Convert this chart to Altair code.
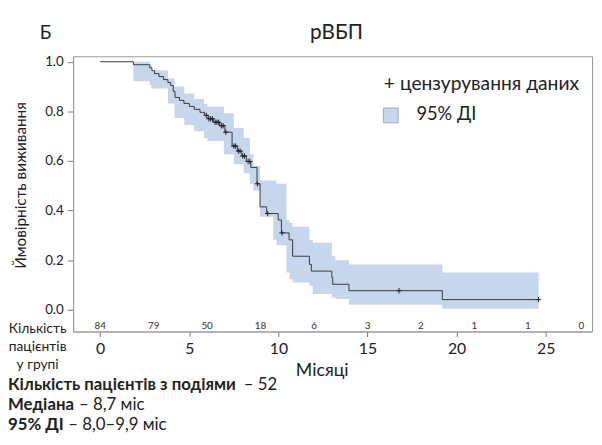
import altair as alt
import pandas as pd

# ---- data ----
km_time = [0, 1.86, 2.78, 2.9, 3.05, 3.3, 3.55, 3.8, 3.95, 4.1, 4.2, 4.45, 4.7, 5.0, 5.28,
           5.6, 5.85, 6.05, 6.35, 6.7, 7.0, 7.4, 7.7, 7.95, 8.2, 8.45, 8.8, 8.97, 9.34,
           9.99, 10.17, 10.6, 10.8, 11.74, 11.85, 13.0, 13.05, 13.96, 19.2, 24.6]
km_surv = [1.0, 0.988, 0.976, 0.964, 0.952, 0.940, 0.928, 0.916, 0.904, 0.880, 0.856, 0.844,
           0.832, 0.820, 0.808, 0.796, 0.784, 0.770, 0.756, 0.742, 0.716, 0.660, 0.640, 0.620,
           0.598, 0.574, 0.508, 0.415, 0.388, 0.362, 0.310, 0.282, 0.216, 0.183, 0.156, 0.130,
           0.103, 0.077, 0.041, 0.041]

ci_time = [1.86, 2.78, 2.87, 3.8, 4.17, 4.72, 5.28, 5.83, 6.01, 6.94, 7.5, 8.05, 8.4, 8.6,
           8.97, 9.71, 9.9, 10.45, 10.63, 10.8, 11.74, 11.93, 13.0, 13.2, 13.96, 19.2, 24.6]
ci_upper = [1.0, 0.99, 0.965, 0.932, 0.90, 0.872, 0.85, 0.83, 0.819, 0.792, 0.733, 0.693,
            0.627, 0.58, 0.521, 0.521, 0.508, 0.362, 0.35, 0.335, 0.282, 0.27, 0.216, 0.20,
            0.183, 0.15, 0.15]
ci_lower = [0.921, 0.905, 0.892, 0.832, 0.773, 0.745, 0.72, 0.693, 0.68, 0.627, 0.587, 0.55,
            0.508, 0.481, 0.375, 0.282, 0.26, 0.15, 0.123, 0.11, 0.097, 0.064, 0.05, 0.044,
            0.02, 0.004, 0.004]

cens_time = [5.95, 6.1, 6.2, 6.3, 6.45, 6.55, 6.65, 6.8, 6.9, 7.05, 7.5, 7.6, 7.75, 7.85,
             8.0, 8.1, 8.3, 8.4, 8.82, 9.4, 10.2, 16.77, 24.6]
cens_surv = [0.784, 0.77, 0.77, 0.77, 0.756, 0.756, 0.756, 0.742, 0.742, 0.716, 0.66, 0.66,
             0.64, 0.64, 0.62, 0.62, 0.598, 0.598, 0.508, 0.388, 0.31, 0.077, 0.041]

risk_time = [0, 3, 6, 9, 12, 15, 18, 21, 24, 27]
risk_n = [84, 79, 50, 18, 6, 3, 2, 1, 1, 0]

x_ticks = [0, 5, 10, 15, 20, 25]
y_ticks = [0.0, 0.2, 0.4, 0.6, 0.8, 1.0]

FONT = "Lato"
TXT = "#222222"
BAND = "#c6d6ec"

km_df = pd.DataFrame({"month": km_time, "surv": km_surv})
ci_df = pd.DataFrame({"month": ci_time, "surv": ci_upper, "lower": ci_lower})
cens_df = pd.DataFrame({"month": cens_time, "surv": cens_surv})
risk_df = pd.DataFrame({"month": risk_time, "n": risk_n})
dummy = pd.DataFrame({"a": [0]})

xs = alt.Scale(domain=[-1.52, 27.6], nice=False, zero=False)
ys = alt.Scale(domain=[-0.0875, 1.022], nice=False, zero=False)

x_axis = alt.Axis(values=x_ticks, title="Місяці", grid=False, labelFont=FONT, labelFontSize=16,
                  labelColor=TXT, tickColor="#777777", tickSize=5, domainColor="#999999",
                  labelPadding=4, titleFont=FONT, titleFontSize=18, titleFontWeight="normal",
                  titleColor=TXT, titleX=252, titleY=31, titleBaseline="top")
y_axis = alt.Axis(values=y_ticks, format=".1f", title=None, grid=False,
                  labelFont=FONT, labelFontSize=13.5, labelColor=TXT, tickColor="#777777",
                  tickSize=6, domainColor="#999999", labelPadding=4)

band = alt.Chart(ci_df).mark_area(interpolate="step-after", color=BAND, opacity=1).encode(
    x=alt.X("month:Q", scale=xs, axis=x_axis),
    y=alt.Y("surv:Q", scale=ys, axis=y_axis),
    y2="lower:Q",
)

line = alt.Chart(km_df).mark_line(interpolate="step-after", color="#3a3a3a", strokeWidth=1).encode(
    x=alt.X("month:Q", scale=xs),
    y=alt.Y("surv:Q", scale=ys),
)

cens = alt.Chart(cens_df).mark_point(
    shape="M0,-1L0,1M-1,0L1,0", filled=False, color="#222222", strokeWidth=1, size=30, opacity=1
).encode(
    x=alt.X("month:Q", scale=xs),
    y=alt.Y("surv:Q", scale=ys),
)

risk = alt.Chart(risk_df).mark_text(font=FONT, fontSize=10, color="#333333", baseline="middle").encode(
    x=alt.X("month:Q", scale=xs),
    y=alt.value(273),
    text="n:Q",
)

def label(txt, x, y, size, align="left", weight="normal", lh=None, angle=None):
    kw = dict(text=txt, font=FONT, fontSize=size, color=TXT, align=align,
              baseline="middle", fontWeight=weight)
    if lh is not None:
        kw["lineHeight"] = lh
    if angle is not None:
        kw["angle"] = angle
    return alt.Chart(dummy).mark_text(**kw).encode(x=alt.value(x), y=alt.value(y))

legend_sq = alt.Chart(dummy).mark_point(
    shape="square", filled=True, fill=BAND, stroke="#9aaccc", strokeWidth=1, size=225, opacity=1
).encode(x=alt.value(322), y=alt.value(60))

texts = [
    label("Б", -28, -24, 19, align="center"),
    label("рВБП", 267, -24, 21, align="center"),
    label("Ймовірність виживання", -53, 131, 15.5, align="center", angle=270),
    label("+ цензурування даних", 315, 28, 19.5),
    label("95% ДІ", 348, 59, 18.5),
    label(["Кількість", "пацієнтів", "у групі"], -36, 277, 14, align="center", lh=18),
    label("Кількість пацієнтів з подіями", -66, 333, 17, weight="bold"),
    label("– 52", 173, 333, 17),
    label("Медіана", -66, 353.5, 17, weight="bold"),
    label("– 8,7 міс", 6, 353.5, 17),
    label("95% ДІ", -66, 374, 17, weight="bold"),
    label("– 8,0–9,9 міс", -5, 374, 17),
]

chart = alt.layer(band, line, cens, risk, legend_sq, *texts).properties(
    width=526, height=279,
    autosize=alt.AutoSizeParams(type="none"),
    padding={"left": 66, "top": 46, "right": 2, "bottom": 104},
).configure_view(stroke="#999999", strokeWidth=1)

chart.save("out.html", embed_options={"renderer": "svg", "actions": False})
